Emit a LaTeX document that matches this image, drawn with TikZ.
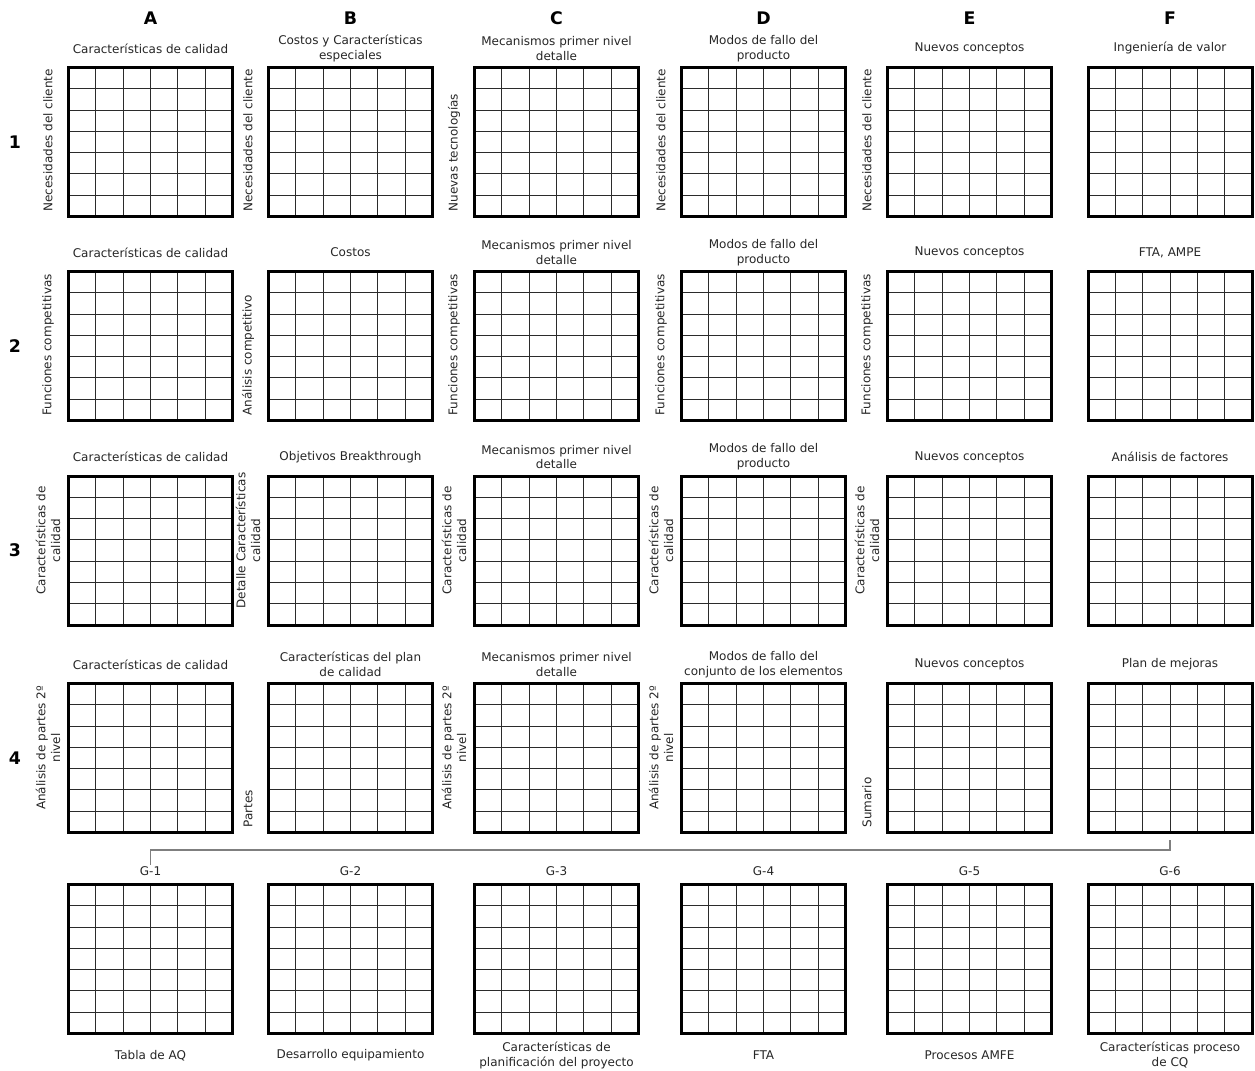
\documentclass[tikz,border=0pt]{standalone}
\usepackage{fontspec}
\setmainfont{DejaVu Sans}
\usetikzlibrary{positioning, calc}
\newlength\pxl
\setlength\pxl{0.75pt}
\definecolor{gridline}{HTML}{2B2B2B}
\definecolor{linkgray}{HTML}{7F7F7F}
\tikzset{
  cell/.style={line width=1\pxl, gridline},
  mat/.style={draw, line width=3\pxl, minimum width=164\pxl, minimum height=149\pxl,
              inner sep=0pt, path picture={
                \foreach \i in {1,...,5}
                  \draw[cell] ($(path picture bounding box.south west)!\i/6!(path picture bounding box.south east)$)
                           -- ($(path picture bounding box.north west)!\i/6!(path picture bounding box.north east)$);
                \foreach \j in {1,...,6}
                  \draw[cell] ($(path picture bounding box.south west)!\j/7!(path picture bounding box.north west)$)
                           -- ($(path picture bounding box.south east)!\j/7!(path picture bounding box.north east)$);
              }},
  lab/.style={font=\fontsize{9}{11}\selectfont, align=center, inner sep=1pt, text=black!85},
  toplab/.style={lab, minimum height=26pt},
  botlab/.style={lab, minimum height=30pt},
  sidelab/.style={lab, rotate=90, anchor=west},
  sidetwo/.style={lab, rotate=90},
  colhead/.style={font=\fontsize{13}{15}\selectfont\bfseries},
  link/.style={linkgray, line width=1.5\pxl},
}

\begin{document}
\begin{tikzpicture}[x=1\pxl, y=-1\pxl]
  \useasboundingbox (0,0) rectangle (1255,1070);

  % --- matrices, rows 1-4 ---
  \foreach \c/\x in {A/150.5, B/350.5, C/556.5, D/763.5, E/969.5, F/1170} {
    \node[colhead] (h\c) at (\x,18) {\c};
    \foreach \r/\y in {1/142, 2/346, 3/550.5, 4/758}
      \node[mat] (m\c\r) at (\x,\y) {};
  }
  \foreach \r/\y in {1/142, 2/346, 3/550.5, 4/758}
    \node[colhead] (r\r) at (15,\y) {\r};

  % --- bottom row G ---
  \foreach \x [count=\k] in {150.5, 350.5, 556.5, 763.5, 969.5, 1170} {
    \node[mat] (g\k) at (\x,959) {};
    \node[lab, above=4pt of g\k] (gl\k) {G-\k};
  }

  % --- top labels ---
  \foreach \m/\t in {A1/Características de calidad, B1/{Costos y Características\\especiales},
      C1/{Mecanismos primer nivel\\detalle}, D1/{Modos de fallo del\\producto},
      E1/Nuevos conceptos, F1/Ingeniería de valor,
      A2/Características de calidad, B2/Costos, C2/{Mecanismos primer nivel\\detalle},
      D2/{Modos de fallo del\\producto}, E2/Nuevos conceptos, F2/{FTA, AMPE},
      A3/Características de calidad, B3/Objetivos Breakthrough, C3/{Mecanismos primer nivel\\detalle},
      D3/{Modos de fallo del\\producto}, E3/Nuevos conceptos, F3/Análisis de factores,
      A4/Características de calidad, B4/{Características del plan\\de calidad},
      C4/{Mecanismos primer nivel\\detalle}, D4/{Modos de fallo del\\conjunto de los elementos},
      E4/Nuevos conceptos, F4/Plan de mejoras}
    \node[toplab, above=0pt of m\m] (t\m) {\t};

  % --- side labels, one line ---
  \foreach \m/\t in {A1/Necesidades del cliente, B1/Necesidades del cliente, C1/Nuevas tecnologías,
      D1/Necesidades del cliente, E1/Necesidades del cliente,
      A2/Funciones competitivas, B2/Análisis competitivo, C2/Funciones competitivas,
      D2/Funciones competitivas, E2/Funciones competitivas,
      B4/Partes, E4/Sumario}
    \node[sidelab] (s\m) at ($(m\m.south west)+(-19,-5)$) {\t};

  % --- side labels, two lines ---
  \foreach \m/\t in {A3/{Características de\\calidad}, B3/{Detalle Características\\calidad},
      C3/{Características de\\calidad}, D3/{Características de\\calidad}, E3/{Características de\\calidad},
      A4/{Análisis de partes 2º\\nivel}, C4/{Análisis de partes 2º\\nivel}, D4/{Análisis de partes 2º\\nivel}}
    \node[sidetwo] (s\m) at ($(m\m.west)+(-19,-10)$) {\t};

  % --- bottom labels ---
  \foreach \k/\t in {1/Tabla de AQ, 2/Desarrollo equipamiento,
      3/{Características de\\planificación del proyecto}, 4/FTA, 5/Procesos AMFE,
      6/{Características proceso\\de CQ}}
    \node[botlab, below=0pt of g\k] (b\k) {\t};

  % --- connector ---
  \draw[link] ([yshift=-6\pxl]mF4.south) -- ++(0,10) -| (gl1.north);

\end{tikzpicture}
\end{document}
